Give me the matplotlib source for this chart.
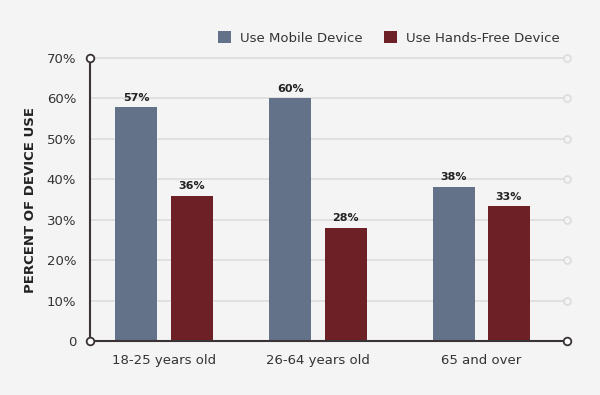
import matplotlib.pyplot as plt
import numpy as np

# data
groups = ['18-25 years old', '26-64 years old', '65 and over']
mobile = [57.8, 60, 38.2]
hands_free = [35.8, 28, 33.3]
mobile_labels = ['57%', '60%', '38%']
hands_free_labels = ['36%', '28%', '33%']
yticks = [0, 10, 20, 30, 40, 50, 60, 70]
ytick_labels = ['0', '10%', '20%', '30%', '40%', '50%', '60%', '70%']

bg = '#f4f4f5'
blue = '#637189'
maroon = '#6e2027'
dark = '#3a3335'
grid = '#dcdcdc'

plt.rcParams['font.family'] = ['DejaVu Sans']

fig = plt.figure(figsize=(6, 3.95), dpi=100, facecolor=bg)
ax = fig.add_axes([0.15, 0.1367, 0.795, 0.7163], facecolor=bg)

x = np.array([0, 0.97, 2.0])
w = 0.265
off = 0.174
b1 = ax.bar(x - off, mobile, w, color=blue, label='Use Mobile Device', zorder=3)
b2 = ax.bar(x + off, hands_free, w, color=maroon, label='Use Hands-Free Device', zorder=3)

for bars, labs in [(b1, mobile_labels), (b2, hands_free_labels)]:
    for b, t in zip(bars, labs):
        ax.text(b.get_x() + b.get_width() / 2, b.get_height() + 1.2, t,
                ha='center', va='bottom', fontsize=8, fontweight='bold', color='#222')

xmin, xmax = -0.467, 2.54
ax.set_xlim(xmin, xmax)
ax.set_ylim(0, 70)

# gridlines with small circles at the right end
for v in yticks[1:]:
    ax.plot([xmin, xmax], [v, v], color=grid, lw=1.2, zorder=1, clip_on=False)
    ax.plot([xmax], [v], marker='o', ms=5, mfc=bg, mec=grid, mew=1.2, zorder=2, clip_on=False)

for s in ['top', 'right']:
    ax.spines[s].set_visible(False)
for s in ['left', 'bottom']:
    ax.spines[s].set_color(dark)
    ax.spines[s].set_linewidth(1.5)
    ax.spines[s].set_zorder(4)

# dark circles at axis ends
ax.plot([xmin, xmin, xmax], [70, 0, 0], ls='none', marker='o', ms=5.5, mfc='white',
        mec=dark, mew=1.3, zorder=5, clip_on=False)

ax.set_yticks(yticks)
ax.set_yticklabels(ytick_labels)
ax.set_xticks(x)
ax.set_xticklabels(groups)
ax.tick_params(axis='both', length=0, labelsize=9.5, colors='#333')
ax.tick_params(axis='y', pad=10)
ax.tick_params(axis='x', pad=9)

ax.set_ylabel('PERCENT OF DEVICE USE', fontsize=9.5, fontweight='bold', color='#222', labelpad=7)

ax.legend(loc='lower right', bbox_to_anchor=(1.01, 1.005), ncol=2, frameon=False,
          handlelength=1.0, handleheight=1.0, handletextpad=0.7, columnspacing=1.6,
          fontsize=9.5, labelcolor='#333')

fig.savefig('out.png', dpi=100, facecolor=bg)
